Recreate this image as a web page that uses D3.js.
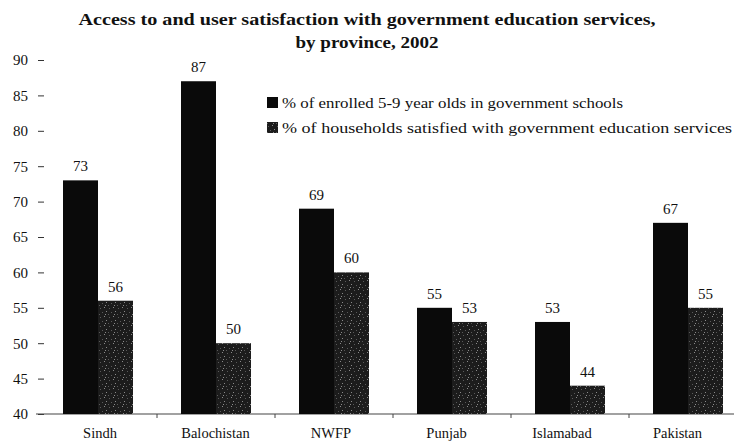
<!DOCTYPE html>
<html>
<head>
<meta charset="utf-8">
<script src="https://cdn.jsdelivr.net/npm/d3@7/dist/d3.min.js"></script>
<style>
  html, body { margin: 0; padding: 0; background: #fff; }
  svg { display: block; }
  text { font-family: "Liberation Serif", Tinos, "Times New Roman", "DejaVu Serif", serif; fill: #111; }
</style>
</head>
<body>
<svg id="chart" width="734" height="442"></svg>
<script>
// Provinces and the two measured shares (%)
const provinces = ["Sindh", "Balochistan", "NWFP", "Punjab", "Islamabad", "Pakistan"];
const enrolledGovt = [73, 87, 69, 55, 53, 67];
const satisfiedGovt = [56, 50, 60, 53, 44, 55];
const yTicks = [40, 45, 50, 55, 60, 65, 70, 75, 80, 85, 90];
const seriesNames = [
  "% of enrolled 5-9 year olds in government schools",
  "% of households satisfied with government education services"
];
const titleLines = [
  "Access to and user satisfaction with government education services,",
  "by province, 2002"
];

const svg = d3.select("#chart");
const W = 734;

// Stippled fill for the satisfaction series
const defs = svg.append("defs");
const pat = defs.append("pattern")
  .attr("id", "stipple").attr("patternUnits", "userSpaceOnUse")
  .attr("width", 9).attr("height", 9);
pat.append("rect").attr("width", 9).attr("height", 9).attr("fill", "#1c1c1c");
[[1,2],[5,1],[3,6],[7,5],[0,8],[6,8]].forEach(([x, y], i) => {
  pat.append("rect").attr("x", x).attr("y", y).attr("width", 1).attr("height", 1)
    .attr("fill", i % 2 ? "#8a8a8a" : "#5a5a5a");
});

const y = d3.scaleLinear().domain([40, 90]).range([414, 60]);
const x = d3.scaleBand().domain(provinces).range([39, 747]);
const sub = d3.scaleBand().domain([0, 1]).range([0, 70]);

// Title (the print face runs wide, so each line is stretched to its set width)
const titleWidths = [577, 143];
svg.append("g").selectAll("text").data(titleLines).join("text")
  .attr("x", 367).attr("y", (d, i) => 25 + i * 23)
  .attr("text-anchor", "middle")
  .attr("font-weight", "bold").attr("font-size", 16.5)
  .attr("textLength", (d, i) => titleWidths[i])
  .attr("lengthAdjust", "spacingAndGlyphs")
  .text(d => d);

// Y axis: labels with short tick dashes
const yAxis = svg.append("g").attr("transform", "translate(44,0)")
  .call(d3.axisLeft(y).tickValues(yTicks).tickSize(6).tickPadding(10));
yAxis.select(".domain").remove();
yAxis.selectAll(".tick line").attr("stroke", "#333").attr("stroke-width", 1);
yAxis.selectAll(".tick text").attr("font-size", 15).attr("fill", "#111");

// X axis baseline
svg.append("line").attr("x1", 36).attr("x2", W).attr("y1", y(40)).attr("y2", y(40))
  .attr("stroke", "#444").attr("stroke-width", 1.2);
svg.append("g").selectAll("line").data(provinces.slice(1)).join("line")
  .attr("x1", d => x(d)).attr("x2", d => x(d))
  .attr("y1", y(40)).attr("y2", y(40) + 4)
  .attr("stroke", "#444");

// Bars with value labels
const groups = svg.append("g").selectAll("g").data(provinces).join("g")
  .attr("transform", d => `translate(${x(d) + x.bandwidth() / 2 - 35},0)`);

groups.each(function (p, i) {
  const g = d3.select(this);
  const vals = [enrolledGovt[i], satisfiedGovt[i]];
  vals.forEach((v, k) => {
    g.append("rect")
      .attr("x", sub(k)).attr("width", sub.bandwidth())
      .attr("y", y(v)).attr("height", y(40) - y(v))
      .attr("fill", k === 0 ? "#0a0a0a" : "url(#stipple)");
    g.append("text")
      .attr("x", sub(k) + sub.bandwidth() / 2).attr("y", y(v) - 9)
      .attr("text-anchor", "middle").attr("font-size", 15)
      .text(v);
  });
});

// Category labels
svg.append("g").selectAll("text").data(provinces).join("text")
  .attr("x", (d, i) => x(d) + x.bandwidth() / 2 + 2 - i * 2.5)
  .attr("y", 438)
  .attr("text-anchor", "middle").attr("font-size", 14.5)
  .text(d => d);

// Legend
const legendWidths = [341, 450];
const leg = svg.append("g").attr("transform", "translate(267,97)");
seriesNames.forEach((name, k) => {
  leg.append("rect").attr("x", 0).attr("y", k * 25).attr("width", 11).attr("height", 11)
    .attr("fill", k === 0 ? "#0a0a0a" : "url(#stipple)");
  leg.append("text").attr("x", 15).attr("y", k * 25 + 10.5)
    .attr("font-size", 15)
    .attr("textLength", legendWidths[k]).attr("lengthAdjust", "spacingAndGlyphs")
    .text(name);
});
</script>
</body>
</html>
